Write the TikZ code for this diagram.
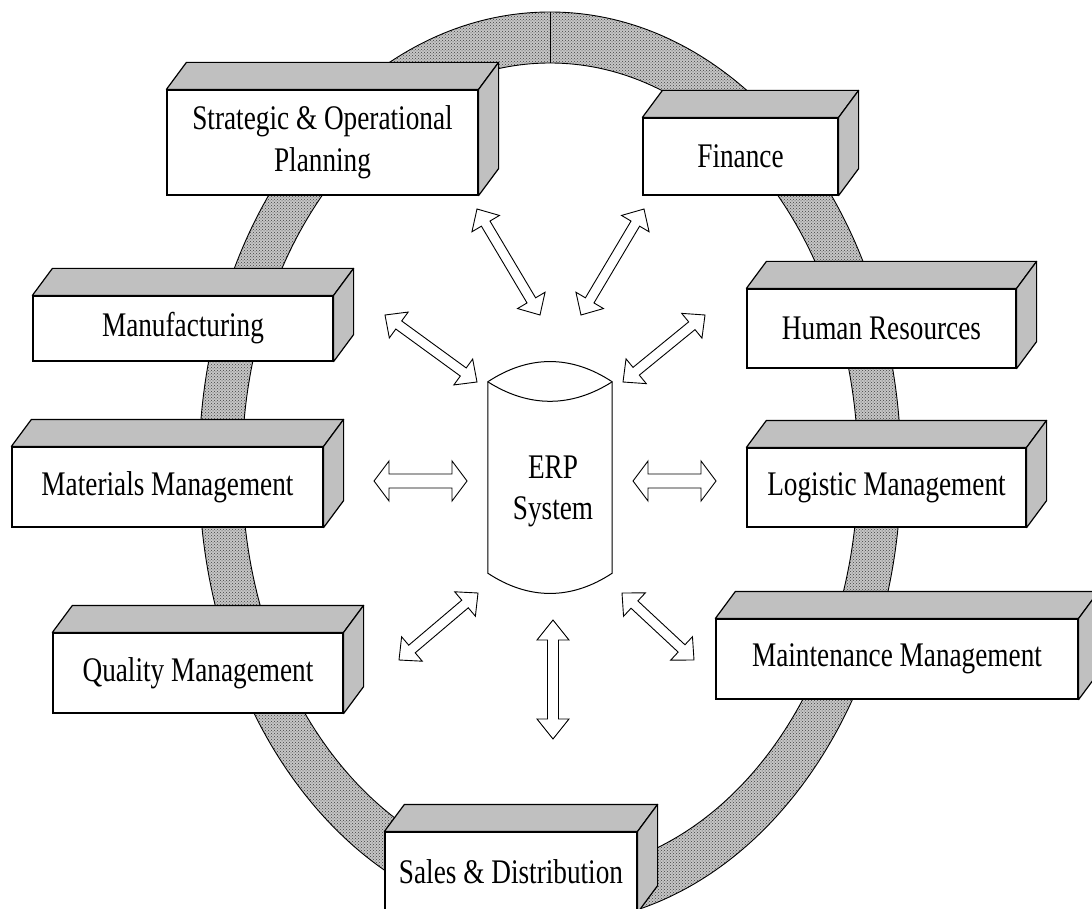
\documentclass[tikz,border=0pt]{standalone}
\usepackage{fontspec}
\setmainfont{Liberation Serif}[FakeStretch=0.79]
\usetikzlibrary{calc,patterns}
\definecolor{facegray}{RGB}{192,192,192}
\newcommand\boxfont{\fontsize{34.5}{41.5}\selectfont}
% two-headed block arrow: from, to, shaft half width, head half width, head length
\newcommand\twoway[5]{%
  \coordinate (ta) at ($(#1)!#5!(#2)$);
  \coordinate (tb) at ($(#2)!#5!(#1)$);
  \draw[flowarrow] (#1) -- ($(ta)!#4!90:(#2)$) -- ($(ta)!#3!90:(#2)$)
    -- ($(tb)!#3!90:(#2)$) -- ($(tb)!#4!90:(#2)$) -- (#2)
    -- ($(tb)!#4!-90:(#2)$) -- ($(tb)!#3!-90:(#2)$)
    -- ($(ta)!#3!-90:(#2)$) -- ($(ta)!#4!-90:(#2)$) -- cycle;}
\begin{document}
\begin{tikzpicture}[
  x=1pt, y=-1pt,
  module/.style={draw, fill=white, line width=1.2pt, inner sep=0pt, align=center, font=\boxfont},
  face/.style={draw, fill=facegray, line width=1.2pt, line join=round},
  ring/.style={draw, line width=0.9pt, even odd rule, preaction={fill=gray!45, even odd rule}, pattern=crosshatch dots, pattern color=black!75},
  flowarrow/.style={draw, fill=white, line width=0.9pt},
  vessel/.style={draw, fill=white, line width=1pt}
]
\useasboundingbox (0,0) rectangle (1092,909);
\clip (0,0) rectangle (1092,909);

% ring behind the modules
\path[ring] (550,468) ellipse [x radius=351pt, y radius=456pt]
            (550,468) ellipse [x radius=308pt, y radius=405pt];
\draw[line width=0.9pt] (550,12) -- (550,63);

% modules
\node[module, minimum width=311pt, minimum height=105pt] (plan) at (322.5,142.5) {Strategic \& Operational\\Planning};
\node[module, minimum width=195pt, minimum height=77pt] (fin) at (740.5,156.5) {Finance};
\node[module, minimum width=300pt, minimum height=65pt] (manu) at (183,328.5) {Manufacturing};
\node[module, minimum width=311pt, minimum height=80pt] (mat) at (167.5,487) {Materials Management};
\node[module, minimum width=290pt, minimum height=80pt] (qual) at (198,673) {Quality Management};
\node[module, minimum width=269pt, minimum height=79pt] (hr) at (881.5,328.5) {Human Resources};
\node[module, minimum width=279pt, minimum height=79pt] (log) at (886.5,487.5) {Logistic Management};
\node[module, minimum width=362pt, minimum height=80pt] (maint) at (897,659) {Maintenance Management};
\node[module, minimum width=252pt, minimum height=80pt] (sales) at (511,872) {Sales \& Distribution};

\foreach \n in {plan,fin,manu,mat,qual,hr,log,maint,sales} {
  \draw[face] (\n.north west) -- ++(20,-27) -- ($(\n.north east)+(20,-27)$) -- (\n.north east) -- cycle;
  \draw[face] (\n.north east) -- ($(\n.north east)+(20,-27)$) -- ($(\n.south east)+(20,-27)$) -- (\n.south east) -- cycle;
}

% ERP system
\node[minimum width=124pt, minimum height=191pt, inner sep=0pt] (erp) at (550,477.5) {};
\draw[vessel] (erp.north west) .. controls +(41,-27) and +(-41,-27) .. (erp.north east)
  -- (erp.south east) .. controls +(-41,27) and +(41,27) .. (erp.south west) -- cycle;
\draw[vessel] (erp.north west) .. controls +(41,26) and +(-41,26) .. (erp.north east);
\node[font=\boxfont, align=center, inner sep=0pt] (erplabel) at (553,491.5) {ERP\\System};

% arrow ends
\coordinate (a1) at (477,209); \coordinate (b1) at (540,315);
\coordinate (a2) at (644,209); \coordinate (b2) at (581,315);
\coordinate (a3) at (385,315); \coordinate (b3) at (477,382);
\coordinate (a4) at (705,315); \coordinate (b4) at (623,382);
\coordinate (a5) at (374,481); \coordinate (b5) at (467,481);
\coordinate (a6) at (716,481); \coordinate (b6) at (633,481);
\coordinate (a7) at (399,660); \coordinate (b7) at (478,593);
\coordinate (a8) at (694,660); \coordinate (b8) at (622,593);
\coordinate (a9) at (553,739); \coordinate (b9) at (553,620);

\twoway{a1}{b1}{5pt}{16pt}{17pt}
\twoway{a2}{b2}{5pt}{16pt}{17pt}
\twoway{a3}{b3}{5pt}{16pt}{17pt}
\twoway{a4}{b4}{5pt}{16pt}{17pt}
\twoway{a5}{b5}{7pt}{20pt}{15pt}
\twoway{a6}{b6}{7pt}{20pt}{15pt}
\twoway{a7}{b7}{5pt}{16pt}{17pt}
\twoway{a8}{b8}{5pt}{16pt}{17pt}
\twoway{a9}{b9}{5.5pt}{16pt}{20pt}

\end{tikzpicture}
\end{document}
